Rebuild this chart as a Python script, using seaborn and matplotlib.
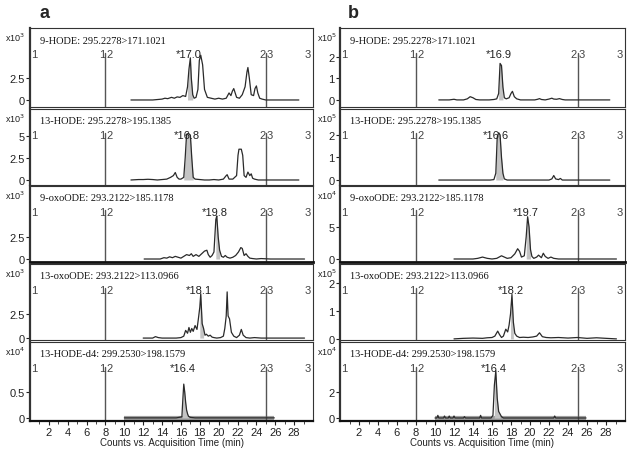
import matplotlib
matplotlib.use("Agg")
import matplotlib.pyplot as plt
import seaborn as sns
import numpy as np

sns.set_style("white")
plt.rcParams['font.family'] = ['Liberation Sans', 'DejaVu Sans']

# ---------------- data ----------------
titles = ["9-HODE: 295.2278>171.1021",
          "13-HODE: 295.2278>195.1385",
          "9-oxoODE: 293.2122>185.1178",
          "13-oxoODE: 293.2122>113.0966",
          "13-HODE-d4: 299.2530>198.1579"]
exp_a = [3, 3, 3, 3, 4]
exp_b = [5, 5, 4, 5, 4]
peak_lbl_a = ["*17.0", "*16.8", "*19.8", "*18.1", "*16.4"]
peak_lbl_b = ["*16.9", "*16.6", "*19.7", "*18.2", "*16.4"]
ytick_a = [[0, 2.5], [0, 2.5, 5], [0, 2.5], [0, 2.5], [0, 0.5]]
ytick_a_lbl = [["0", "2.5"], ["0", "2.5", "5"], ["0", "2.5"], ["0", "2.5"], ["0", "0.5"]]
ytick_b = [[0, 1, 2], [0, 1, 2], [0, 5], [0, 1, 2], [0, 2]]
ytick_b_lbl = [["0", "1", "2"], ["0", "1", "2"], ["0", "5"], ["0", "1", "2"], ["0", "2"]]
segment_edges = [8, 25]
segment_lbl = ["1", "2", "3"]
xticks = [2, 4, 6, 8, 10, 12, 14, 16, 18, 20, 22, 24, 26, 28]
xlabel = "Counts vs. Acquisition Time (min)"

# panel a traces (time, intensity)
t_a1 = [10.7, 11.5, 12.0, 12.5, 13.0, 13.5, 14.0, 14.3, 14.6, 15.0, 15.3, 15.6, 15.9, 16.2, 16.5, 16.7, 16.85, 17.0, 17.1, 17.25, 17.4, 17.6, 17.8, 17.95, 18.1, 18.3, 18.5, 18.8, 19.2, 19.6, 20.0, 20.4, 20.8, 21.1, 21.3, 21.45, 21.6, 21.75, 21.9, 22.2, 22.5, 22.8, 23.0, 23.1, 23.25, 23.45, 23.7, 23.85, 24.0, 24.15, 24.35, 24.6, 25.0, 25.5, 26.0, 27.0, 28.5]
y_a1 = [0, 0, 0, 0, 0, 0.05, 0.1, 0.2, 0.15, 0.3, 0.2, 0.35, 0.3, 0.5, 0.4, 1.5, 3.5, 4.8, 2.5, 0.6, 0.2, 0.3, 1.2, 4.5, 5.1, 4.0, 1.2, 0.3, 0.2, 0.1, 0.2, 0.1, 0.2, 0.8, 0.5, 1.0, 1.3, 0.8, 0.3, 0.2, 0.6, 1.5, 3.2, 3.7, 2.5, 0.6, 0.5, 1.3, 1.6, 0.8, 0.2, 0.1, 0, 0, 0, 0, 0]
t_a2 = [10.7, 11.5, 12.0, 12.5, 13.0, 13.5, 14.0, 14.5, 14.9, 15.2, 15.4, 15.6, 15.8, 16.0, 16.3, 16.45, 16.6, 16.8, 17.0, 17.15, 17.3, 17.5, 18.0, 18.5, 19.0, 19.5, 20.0, 20.5, 20.8, 20.9, 21.1, 21.5, 21.9, 22.05, 22.15, 22.4, 22.55, 22.7, 22.9, 23.1, 23.3, 23.45, 23.6, 23.8, 24.2, 25.0, 26.0, 27.0, 28.5]
y_a2 = [0, 0.05, 0.05, 0.08, 0.05, 0, 0.05, 0.1, 0.3, 0.5, 0.85, 0.3, 0.1, 0.1, 0.3, 2.5, 5.2, 5.3, 5.1, 2.5, 0.3, 0.1, 0.05, 0, 0, 0.05, 0, 0.1, 0.5, 0.6, 0.1, 0.1, 0.5, 2.8, 3.5, 3.5, 2.8, 0.5, 0.3, 0.9, 0.5, 0.7, 0.2, 0.1, 0, 0, 0, 0, 0]
t_a3 = [12.1, 13.0, 13.8, 14.2, 14.5, 14.8, 15.1, 15.4, 15.7, 16.0, 16.3, 16.6, 16.9, 17.1, 17.3, 17.6, 17.9, 18.2, 18.5, 18.75, 18.9, 19.1, 19.3, 19.5, 19.7, 19.8, 19.95, 20.1, 20.3, 20.5, 20.7, 20.9, 21.2, 21.5, 21.8, 22.1, 22.35, 22.5, 22.7, 22.9, 23.1, 23.3, 23.6, 24.0, 24.5, 25.5, 26.5, 28.0, 29.1]
y_a3 = [0, 0, 0, 0.15, 0.1, 0.25, 0.15, 0.3, 0.2, 0.1, 0.3, 0.5, 0.4, 0.6, 0.3, 0.5, 0.3, 0.6, 0.9, 1.0, 0.5, 0.2, 0.4, 0.8, 4.5, 4.9, 2.5, 1.0, 0.3, 0.2, 0.4, 0.2, 0.1, 0.2, 0.4, 0.8, 1.3, 1.2, 0.4, 0.6, 0.3, 0.1, 0.05, 0, 0.05, 0, 0, 0, 0]
t_a4 = [12.0, 13.0, 13.3, 13.6, 14.0, 14.5, 15.0, 15.5, 16.0, 16.3, 16.5, 16.7, 16.85, 17.0, 17.15, 17.3, 17.5, 17.7, 17.85, 18.0, 18.1, 18.25, 18.4, 18.55, 18.7, 18.9, 19.1, 19.3, 19.5, 19.8, 20.2, 20.5, 20.65, 20.8, 20.9, 21.0, 21.15, 21.35, 21.6, 21.9, 22.2, 22.4, 22.6, 22.9, 23.3, 23.8, 24.5, 25.5, 26.5, 27.5, 29.1]
y_a4 = [0, 0, 0.15, 0.05, 0, 0, 0, 0, 0.05, 0.2, 0.8, 0.5, 1.1, 0.6, 1.0, 0.7, 1.3, 0.9, 2.0, 3.2, 4.6, 1.5, 1.0, 0.3, 0.4, 0.2, 0.3, 0.1, 0.05, 0, 0.05, 0.2, 1.0, 2.3, 4.8, 2.3, 2.0, 0.6, 0.2, 0.05, 0.3, 0.9, 0.3, 0.05, 0, 0.05, 0, 0, 0, 0, 0]
t_a5 = [10.0, 12.0, 14.0, 15.5, 16.1, 16.2, 16.3, 16.4, 16.5, 16.6, 16.7, 16.8, 17.0, 17.5, 20.0, 23.0, 25.9]
y_a5 = [0, 0, 0, 0, 0.02, 0.35, 0.65, 0.5, 0.3, 0.15, 0.08, 0.03, 0.01, 0, 0, 0, 0]

# panel b traces
t_b1 = [10.4, 11.5, 12.0, 12.3, 12.6, 13.0, 13.4, 13.7, 14.0, 14.3, 14.7, 15.2, 15.7, 16.2, 16.5, 16.7, 16.85, 17.0, 17.15, 17.3, 17.5, 17.8, 18.0, 18.15, 18.35, 18.6, 19.0, 19.5, 20.0, 20.5, 20.8, 21.0, 21.2, 21.6, 22.0, 22.3, 22.5, 22.8, 23.1, 23.4, 23.7, 24.2, 25.0, 26.0, 27.0, 28.4]
y_b1 = [0, 0, 0.03, 0, 0, 0, 0.05, 0.15, 0.1, 0.02, 0, 0, 0, 0.02, 0.05, 0.3, 1.7, 1.6, 0.6, 0.1, 0.05, 0.1, 0.3, 0.4, 0.15, 0.05, 0, 0, 0, 0, 0.03, 0.06, 0.02, 0, 0.04, 0.08, 0.04, 0.03, 0.06, 0.02, 0, 0, 0, 0, 0, 0]
t_b2 = [10.4, 12.0, 14.0, 15.0, 15.8, 16.2, 16.4, 16.55, 16.7, 16.85, 17.0, 17.15, 17.3, 17.6, 18.0, 19.0, 20.0, 21.0, 22.0, 22.3, 22.5, 22.7, 23.0, 23.2, 23.4, 24.0, 26.0, 28.4]
y_b2 = [0, 0, 0, 0, 0, 0.02, 0.3, 1.9, 2.1, 2.0, 1.0, 0.3, 0.05, 0, 0, 0, 0, 0, 0, 0.05, 0.2, 0.05, 0.02, 0.07, 0, 0, 0, 0]
t_b3 = [12.0, 13.0, 14.0, 14.5, 15.0, 15.5, 16.0, 16.5, 17.0, 17.3, 17.6, 18.0, 18.4, 18.7, 18.9, 19.1, 19.4, 19.6, 19.75, 19.9, 20.05, 20.2, 20.4, 20.7, 20.9, 21.2, 21.4, 21.6, 21.9, 22.2, 22.5, 23.0, 24.0, 25.0, 26.0, 27.0, 29.1]
y_b3 = [0, 0, 0, 0.1, 0.3, 0.1, 0, 0.1, 0.5, 0.3, 0.1, 0.2, 0.8, 1.6, 1.2, 0.3, 0.5, 3.5, 6.6, 5.0, 1.5, 0.4, 0.1, 0.3, 0.6, 0.2, 0.9, 0.4, 0.1, 0.3, 0.1, 0, 0, 0, 0, 0, 0]
t_b4 = [12.0, 13.0, 14.0, 15.0, 15.5, 16.0, 16.3, 16.6, 16.8, 17.0, 17.2, 17.45, 17.65, 17.8, 17.95, 18.1, 18.25, 18.4, 18.6, 18.9, 19.3, 19.8, 20.3, 20.7, 21.0, 21.3, 21.7, 22.2, 23.0, 24.0, 25.0, 26.0, 27.0, 28.0, 29.1]
y_b4 = [0, 0.02, 0.03, 0.02, 0.04, 0.05, 0.1, 0.28, 0.15, 0.05, 0.1, 0.35, 0.25, 0.5, 0.9, 1.6, 0.6, 0.2, 0.1, 0.05, 0.06, 0.05, 0.07, 0.1, 0.22, 0.08, 0.05, 0.04, 0.05, 0.03, 0.05, 0.02, 0.04, 0.02, 0]
t_b5 = [10.0, 10.2, 10.3, 10.4, 10.9, 11.0, 11.1, 11.4, 11.5, 11.6, 11.9, 12.0, 12.1, 13.0, 13.1, 13.2, 14.7, 14.8, 14.9, 15.9, 16.1, 16.25, 16.4, 16.55, 16.7, 16.85, 17.0, 17.2, 22.5, 22.6, 22.7, 25.9]
y_b5 = [0, 0, 0.2, 0, 0, 0.15, 0, 0, 0.15, 0, 0, 0.15, 0, 0, 0.1, 0, 0, 0.2, 0, 0, 0.2, 2.5, 3.6, 1.5, 0.5, 0.3, 0.1, 0, 0, 0.15, 0, 0]

traces_a = [(t_a1, y_a1), (t_a2, y_a2), (t_a3, y_a3), (t_a4, y_a4), (t_a5, y_a5)]
traces_b = [(t_b1, y_b1), (t_b2, y_b2), (t_b3, y_b3), (t_b4, y_b4), (t_b5, y_b5)]
fill_a = [(16.7, 17.3), (16.3, 17.3), (19.6, 20.1), (17.9, 18.4), (16.1, 16.9)]
fill_b = [(16.7, 17.2), (16.4, 17.2), (19.6, 20.1), (17.9, 18.3), (16.2, 16.9)]

# ---------------- layout (pixels) ----------------
W, H = 629, 452
col_left = [30, 340]
col_w = [283, 285]
exp_x = [5, 317]
row_top = [29, 110, 187, 265, 343]
row_bot = [108, 186, 263, 341, 422]
ylim_a = [(-0.8, 8.2), (-0.57, 8.07), (-0.34, 8.3), (-0.2, 7.7), (-0.06, 1.46)]
ylim_b = [(-0.33, 3.35), (-0.22, 3.15), (-0.47, 11.4), (-0.04, 2.7), (-0.23, 5.8)]

fig = plt.figure(figsize=(W / 100, H / 100), dpi=100)
line_c = "#2a2a2a"
seg_c = "#555555"
serif = ['Liberation Serif', 'DejaVu Serif']

for ci, (traces, exps, plbls, yt, ytl, ylims, fills) in enumerate([
        (traces_a, exp_a, peak_lbl_a, ytick_a, ytick_a_lbl, ylim_a, fill_a),
        (traces_b, exp_b, peak_lbl_b, ytick_b, ytick_b_lbl, ylim_b, fill_b)]):
    for ri in range(5):
        ax = fig.add_axes([col_left[ci] / W, 1 - row_bot[ri] / H,
                           col_w[ci] / W, (row_bot[ri] - row_top[ri]) / H])
        t, y = traces[ri]
        t = np.array(t); y = np.array(y)
        if ri == 4:
            ax.plot([t.min(), t.max()], [0, 0], color="#a0a0a0", lw=3.0,
                    solid_capstyle="butt", zorder=1)
        lo, hi = fills[ri]
        m = (t >= lo) & (t <= hi)
        ax.fill_between(t[m], 0, y[m], color="#c4c4c4", zorder=2, lw=0)
        sns.lineplot(x=t, y=y, ax=ax, sort=False, estimator=None,
                     color=line_c, linewidth=0.9, zorder=3)
        ax.set_xlim(0, 30)
        ax.set_ylim(*ylims[ri])
        # segment lines and labels
        for e in segment_edges:
            ax.axvline(e, ymin=0, ymax=0.68, color=seg_c, lw=1.0, zorder=1)
        seg_pos = [(0.15, segment_lbl[0], 'left'),
                   (segment_edges[0] - 0.05, segment_lbl[0], 'right'),
                   (segment_edges[0] + 0.1, segment_lbl[1], 'left'),
                   (segment_edges[1] - 0.05, segment_lbl[1], 'right'),
                   (segment_edges[1] + 0.1, segment_lbl[2], 'left'),
                   (29.8, segment_lbl[2], 'right')]
        for xx, s, ha in seg_pos:
            ax.annotate(s, xy=(xx, 1), xycoords=ax.get_xaxis_transform(),
                        xytext=(0, -26), textcoords='offset pixels',
                        ha=ha, va='center', fontsize=8, color="#444444")
        pk = float(plbls[ri][1:])
        ax.annotate(plbls[ri], xy=(pk - 0.2, 1), xycoords=ax.get_xaxis_transform(),
                    xytext=(0, -26), textcoords='offset pixels',
                    ha='center', va='center', fontsize=8, color="#222222")
        # title
        ax.annotate(titles[ri], xy=(0, 1), xycoords='axes fraction',
                    xytext=(10, -12), textcoords='offset pixels',
                    ha='left', va='center', fontsize=7.5, family=serif,
                    color="#111111")
        # exponent label
        fig.text(exp_x[ci] / W, 1 - (row_top[ri] + 9) / H,
                 r"x10$^{%d}$" % exps[ri], fontsize=6.5, ha='left', va='center',
                 color="#222222")
        # y ticks
        ax.set_yticks(yt[ri])
        ax.set_yticklabels(ytl[ri])
        ax.set_ylabel("")
        ax.tick_params(axis='y', direction='out', length=3, width=0.8,
                       labelsize=8, pad=1, left=True, colors="#222222")
        # x ticks
        if ri == 4:
            ax.set_xticks(xticks)
            ax.set_xticks(np.arange(1, 30, 1), minor=True)
            ax.tick_params(axis='x', direction='out', length=3, width=0.8,
                           labelsize=8, pad=1, bottom=True, colors="#222222")
            ax.tick_params(axis='x', which='minor', direction='out', length=2,
                           width=0.6, bottom=True)
            ax.set_xlabel(xlabel, fontsize=7, labelpad=0, color="#222222")
        else:
            ax.set_xticks([])
            ax.set_xlabel("")
        for name, sp in ax.spines.items():
            sp.set_visible(True)
            sp.set_color("#333333")
            sp.set_linewidth(0.8)
        ax.spines['left'].set_linewidth(1.6)
        if ri == 2:
            ax.spines['bottom'].set_linewidth(2.0)
            ax.spines['bottom'].set_color("#111111")
        if ri == 4:
            ax.spines['bottom'].set_linewidth(1.6)
            ax.spines['bottom'].set_color("#111111")

fig.text(45 / W, 1 - 13 / H, "a", fontsize=13, fontweight='bold',
         ha='center', va='center')
fig.text(353 / W, 1 - 13 / H, "b", fontsize=13, fontweight='bold',
         ha='center', va='center')

fig.savefig("out.png", dpi=100)
